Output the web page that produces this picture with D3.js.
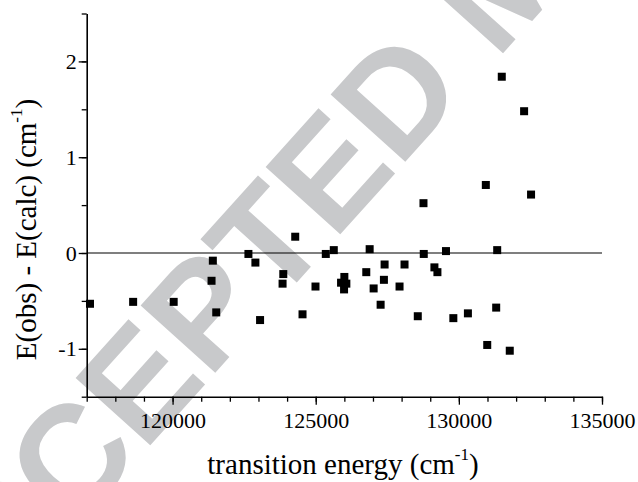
<!DOCTYPE html>
<html>
<head>
<meta charset="utf-8">
<style>
body { margin: 0; background: #fff; }
text { font-family: "Liberation Serif", "Times New Roman", serif; }
</style>
</head>
<body>
<svg id="chart" width="638" height="482"></svg>
<script src="https://d3js.org/d3.v7.min.js"></script>
<script>
    // transition energies (cm-1) and residuals E(obs) - E(calc) (cm-1)
    const energy = [117115, 118622, 120038, 121406, 121361, 121525, 122649, 122893, 123056, 124284,
        123867, 123842, 124539, 124992, 125352, 125631, 126000, 125885, 126070, 125990,
        126766, 126884, 127023, 127267, 127406, 127382, 127928, 128102, 128565, 128774,
        129146, 129251, 129550, 129807, 130316, 131339, 131304, 130991, 131778, 131499,
        132279, 130942, 132522, 128764];
    const residual = [-0.53, -0.51, -0.51, -0.08, -0.29, -0.62, -0.01, -0.10, -0.70, 0.17,
        -0.22, -0.32, -0.64, -0.35, -0.01, 0.03, -0.25, -0.31, -0.32, -0.38,
        -0.20, 0.04, -0.37, -0.54, -0.12, -0.28, -0.35, -0.12, -0.66, -0.01,
        -0.15, -0.20, 0.02, -0.68, -0.63, 0.03, -0.57, -0.96, -1.02, 1.84,
        1.48, 0.71, 0.61, 0.52];
    const xMajor = [120000, 125000, 130000, 135000];
    const yMajor = [-1, 0, 1, 2];

    const svg = d3.select("#chart");
    const x = d3.scaleLinear().domain([117000, 135000]).range([86.7, 602]);
    const y = d3.scaleLinear().domain([-1.5, 2.5]).range([396.7, 13.5]);

    // watermark
    svg.append("text")
        .attr("transform", "translate(-68,687.5) rotate(-48)")
        .style("font-family", "'Liberation Sans', Arial, sans-serif")
        .style("font-weight", "bold")
        .style("font-size", "146px")
        .style("fill", "#c8c9cb")
        .text("ACCEPTED MANUSCRIPT");

    // zero line
    svg.append("line")
        .attr("x1", x(117000)).attr("x2", x(135000))
        .attr("y1", y(0)).attr("y2", y(0))
        .style("stroke", "#000").style("stroke-width", 1.2);

    // x axis: minor then major
    const xMinor = d3.range(117000, 135001, 1000);
    svg.append("g")
        .attr("transform", `translate(0,${y(-1.5)})`)
        .call(d3.axisBottom(x).tickValues(xMinor).tickSize(5).tickSizeOuter(0).tickFormat(""))
        .call(g => g.select(".domain").remove())
        .call(g => g.selectAll("line").style("stroke-width", 1.3));
    const gx = svg.append("g")
        .attr("transform", `translate(0,${y(-1.5)})`)
        .call(d3.axisBottom(x).tickValues(xMajor).tickSize(8).tickSizeOuter(0).tickPadding(8).tickFormat(d => String(d)));
    gx.selectAll("text").style("font-size", "22px").style("font-family", "'Liberation Serif', serif").attr("fill", "#000");
    gx.selectAll("line").style("stroke-width", 1.3);
    gx.select(".domain").style("stroke-width", 1.6);

    // y axis
    const yMinor = d3.range(-1.5, 2.51, 0.5);
    svg.append("g")
        .attr("transform", `translate(${x(117000)},0)`)
        .call(d3.axisLeft(y).tickValues(yMinor).tickSize(5).tickSizeOuter(0).tickFormat(""))
        .call(g => g.select(".domain").remove())
        .call(g => g.selectAll("line").style("stroke-width", 1.3));
    const gy = svg.append("g")
        .attr("transform", `translate(${x(117000)},0)`)
        .call(d3.axisLeft(y).tickValues(yMajor).tickSize(8).tickSizeOuter(0).tickPadding(2).tickFormat(d => String(d)));
    gy.selectAll("text").style("font-size", "22px").style("font-family", "'Liberation Serif', serif").attr("fill", "#000");
    gy.selectAll("line").style("stroke-width", 1.3);
    gy.select(".domain").style("stroke-width", 1.6);

    // points
    svg.append("g").selectAll("rect")
        .data(energy.map((e, i) => [e, residual[i]]))
        .join("rect")
        .attr("x", d => x(d[0]) - 4)
        .attr("y", d => y(d[1]) - 4)
        .attr("width", 8)
        .attr("height", 8)
        .style("fill", "#000");

    // axis titles
    const xt = svg.append("text")
        .attr("x", 343).attr("y", 474)
        .attr("text-anchor", "middle")
        .style("font-size", "29px");
    xt.append("tspan").text("transition energy (cm");
    xt.append("tspan").attr("dy", -14).style("font-size", "17px").text("-1");
    xt.append("tspan").attr("dy", 14).text(")");

    const yt = svg.append("text")
        .attr("transform", "translate(36,229.5) rotate(-90)")
        .attr("text-anchor", "middle")
        .style("font-size", "29px");
    yt.append("tspan").text("E(obs) - E(calc) (cm");
    yt.append("tspan").attr("dy", -14).style("font-size", "17px").text("-1");
    yt.append("tspan").attr("dy", 14).text(")");
</script>
</body>
</html>
